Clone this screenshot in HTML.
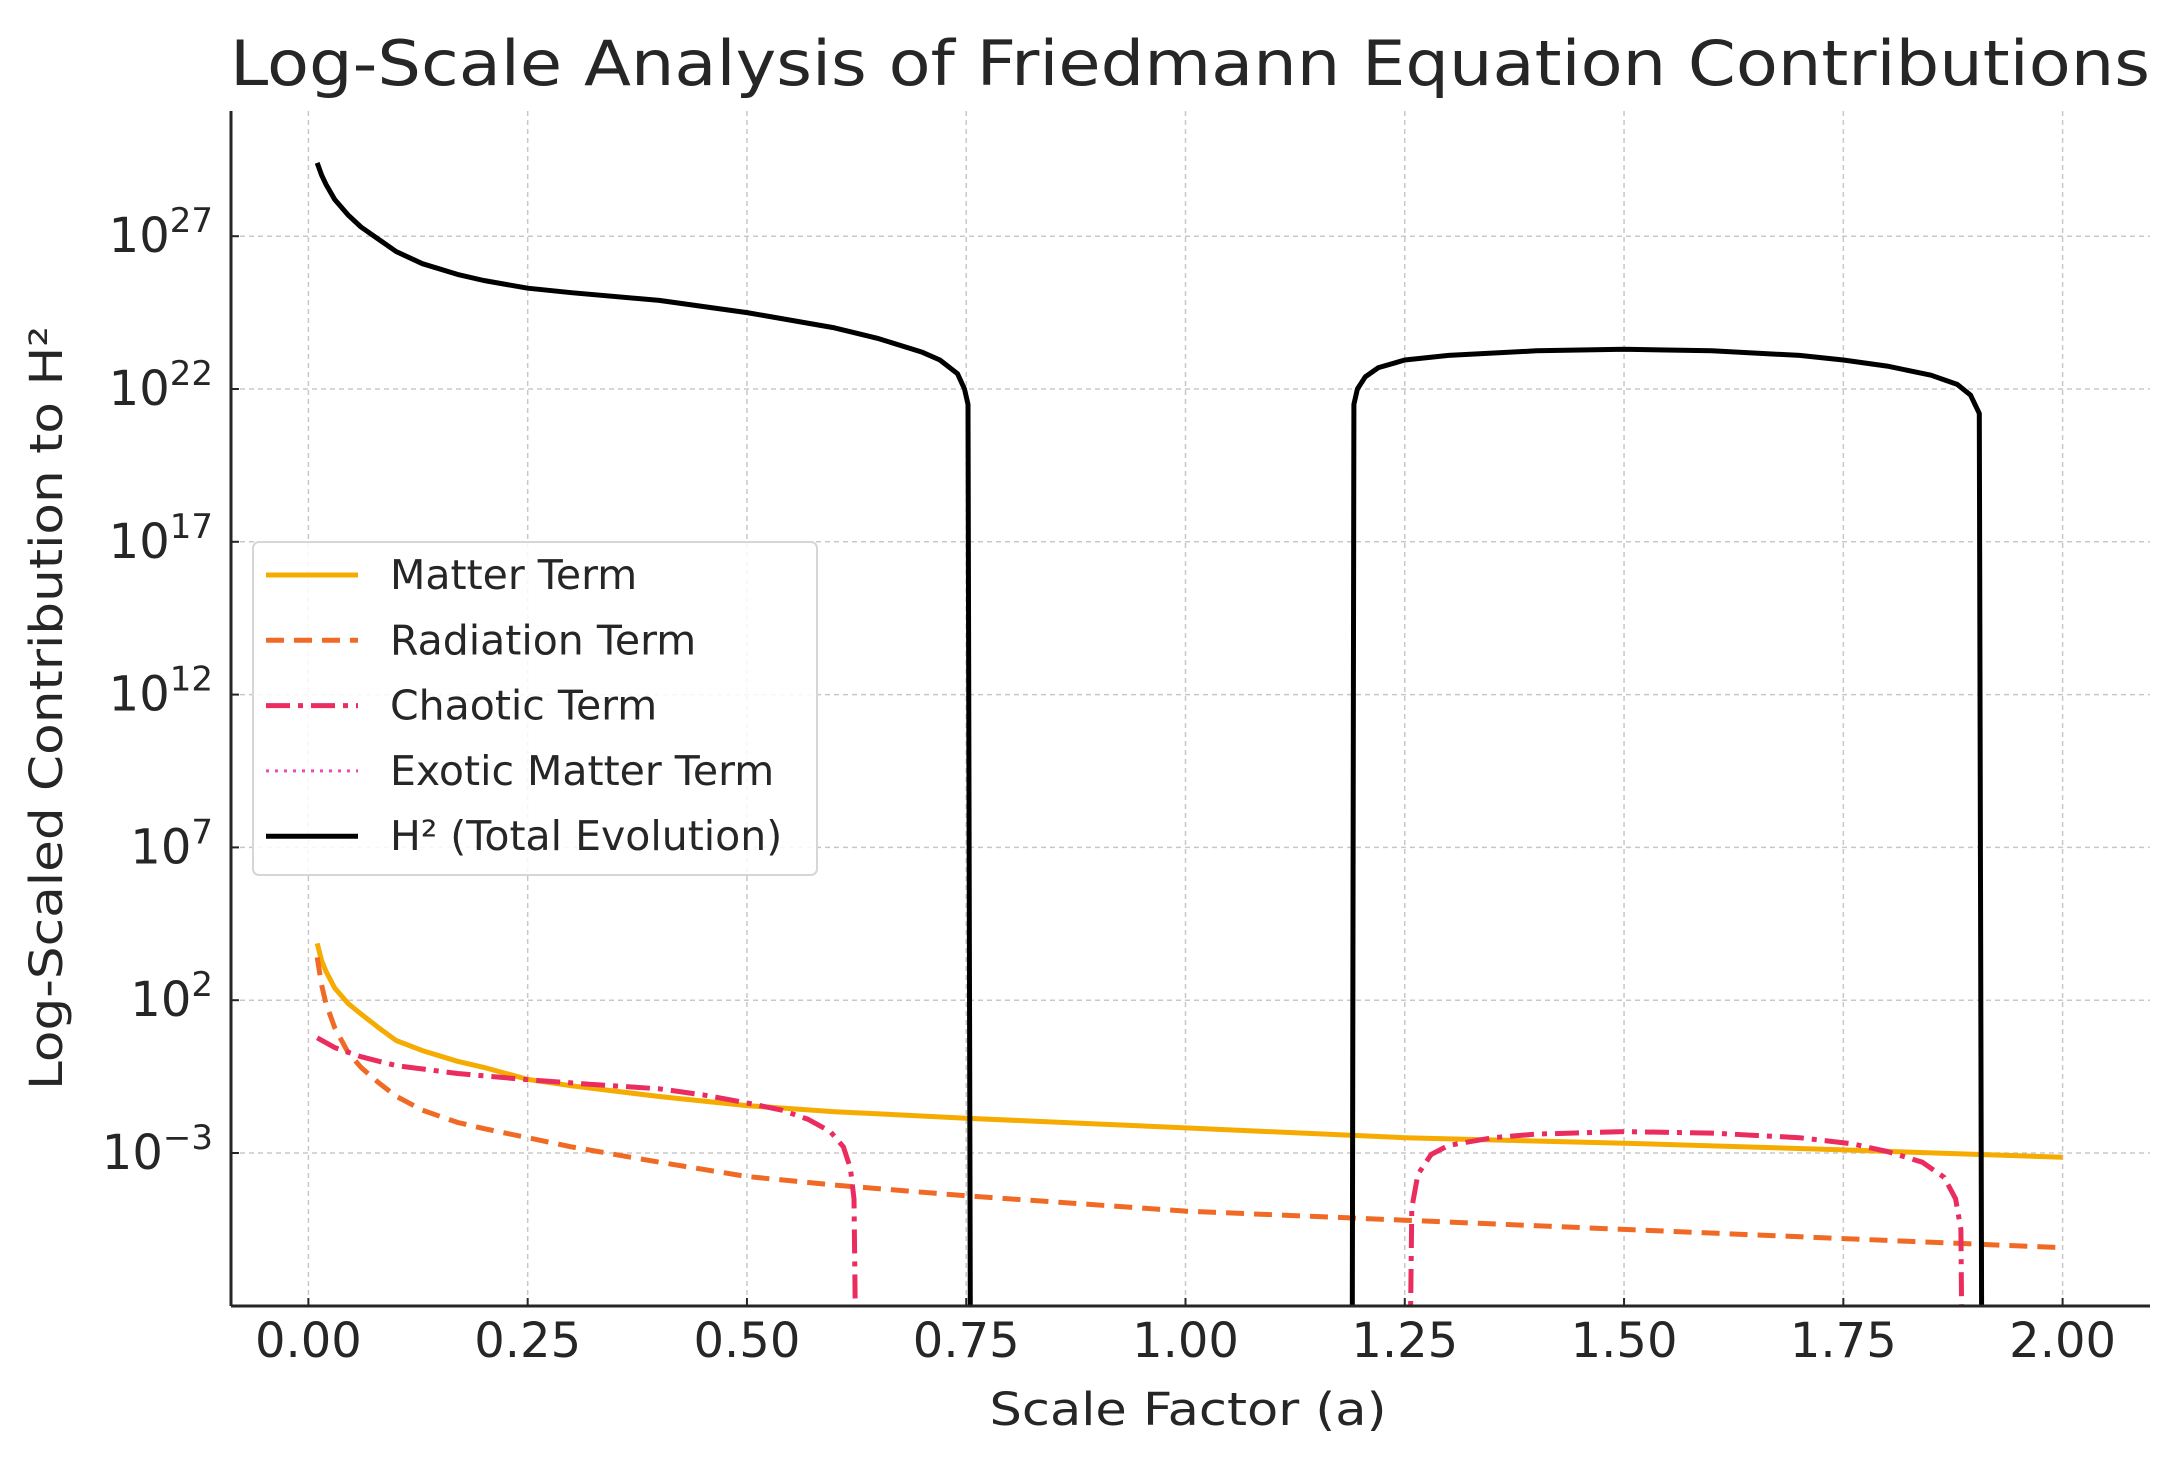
<!DOCTYPE html>
<html><head><meta charset="utf-8"><style>
html,body{margin:0;padding:0;background:#fff;}
svg{display:block;font-family:"DejaVu Sans","Liberation Sans",sans-serif;}
</style></head><body>
<svg id="chart" width="2178" height="1463" viewBox="0 0 2178 1463" xmlns="http://www.w3.org/2000/svg">
<defs><clipPath id="plotclip"><rect x="231" y="111" width="1919" height="1195"/></clipPath></defs>
<text x="1190" y="85" font-size="62" fill="#262626" text-anchor="middle" textLength="1920" lengthAdjust="spacingAndGlyphs">Log-Scale Analysis of Friedmann Equation Contributions</text>
<g id="grid"></g>
<g id="series" clip-path="url(#plotclip)"></g>
<g id="axes"></g>
<text x="1188" y="1425" font-size="45" fill="#262626" text-anchor="middle" textLength="397" lengthAdjust="spacingAndGlyphs">Scale Factor (a)</text>
<text transform="translate(62,708) rotate(-90)" font-size="45" fill="#262626" text-anchor="middle" textLength="764" lengthAdjust="spacingAndGlyphs">Log-Scaled Contribution to H²</text>
<g id="legend"></g>
</svg>
<script>
// ---- data (log10 values) ----
var xTicks = [0, 0.25, 0.5, 0.75, 1.0, 1.25, 1.5, 1.75, 2.0];
var xTickLabels = ["0.00","0.25","0.50","0.75","1.00","1.25","1.50","1.75","2.00"];
var yTicks = [-3, 2, 7, 12, 17, 22, 27];
var matterA = [0.01,0.015,0.02,0.03,0.045,0.06,0.08,0.1,0.13,0.17,0.2,0.25,0.3,0.4,0.5,0.6,0.75,0.9,1.0,1.25,1.5,1.75,2.0];
var matterV = [3.86,3.3,2.95,2.4,1.9,1.55,1.1,0.68,0.35,0.0,-0.2,-0.59,-0.8,-1.15,-1.45,-1.65,-1.86,-2.05,-2.18,-2.5,-2.68,-2.9,-3.14];
var radA = [0.01,0.015,0.02,0.03,0.045,0.06,0.08,0.1,0.13,0.17,0.2,0.25,0.3,0.4,0.5,0.6,0.75,1.0,1.25,1.5,1.75,2.0];
var radV = [3.4,2.5,1.9,1.1,0.3,-0.2,-0.7,-1.14,-1.6,-2.0,-2.2,-2.5,-2.8,-3.3,-3.77,-4.05,-4.4,-4.9,-5.2,-5.5,-5.8,-6.1];
var chaosA = [0.01,0.03,0.06,0.1,0.17,0.25,0.32,0.4,0.45,0.5,0.54,0.57,0.595,0.61,0.618,0.622,0.625,null,1.255,1.258,1.265,1.28,1.3,1.35,1.4,1.5,1.6,1.7,1.76,1.8,1.84,1.865,1.878,1.884,1.886];
var chaosV = [0.77,0.45,0.15,-0.14,-0.4,-0.6,-0.75,-0.9,-1.1,-1.36,-1.6,-1.9,-2.3,-2.8,-3.5,-4.5,-12,null,-12,-4.8,-3.7,-3.05,-2.75,-2.5,-2.38,-2.3,-2.35,-2.5,-2.7,-2.95,-3.3,-3.8,-4.5,-5.5,-12];
var totalA = [0.01,0.015,0.02,0.03,0.045,0.06,0.08,0.1,0.13,0.17,0.2,0.25,0.3,0.4,0.5,0.6,0.65,0.7,0.72,0.74,0.748,0.752,0.755,null,1.19,1.192,1.196,1.205,1.22,1.25,1.3,1.4,1.5,1.6,1.7,1.75,1.8,1.85,1.88,1.895,1.905,1.908];
var totalV = [29.4,29.0,28.7,28.2,27.7,27.3,26.9,26.5,26.1,25.75,25.55,25.3,25.15,24.9,24.5,24.0,23.65,23.2,22.95,22.5,22.0,21.5,-12,null,-12,21.5,22.0,22.4,22.7,22.95,23.1,23.25,23.3,23.25,23.1,22.95,22.75,22.45,22.15,21.8,21.2,-12];
var legendLabels = ["Matter Term","Radiation Term","Chaotic Term","Exotic Matter Term","H² (Total Evolution)"];

var NS="http://www.w3.org/2000/svg";
var L=231,R=2150,T=111,B=1306;
function xs(a){return 308.4 + a*877.1;}
function ys(v){return 1153 - (v+3)*30.56;}
function mk(tag,attrs,parent){var e=document.createElementNS(NS,tag);for(var k in attrs)e.setAttribute(k,attrs[k]);parent.appendChild(e);return e;}
var grid=document.getElementById('grid'),axes=document.getElementById('axes'),series=document.getElementById('series'),legend=document.getElementById('legend');

xTicks.forEach(function(t,i){
  var g=mk('line',{x1:xs(t),x2:xs(t),y1:T,y2:B,stroke:'#c8c8c8','stroke-width':1.5,'stroke-dasharray':'5,4'},grid);
  
  
  var tk=mk('line',{x1:xs(t),x2:xs(t),y1:B,y2:B-8,stroke:'#262626','stroke-width':2},axes);
  
  
  var lb=mk('text',{x:xs(t),y:1357,'font-size':48,fill:'#262626','text-anchor':'middle'},axes);
  lb.textContent=xTickLabels[i];
  
  
});
yTicks.forEach(function(t){
  var g=mk('line',{x1:L,x2:R,y1:ys(t),y2:ys(t),stroke:'#c8c8c8','stroke-width':1.5,'stroke-dasharray':'5,4'},grid);
  
  
  var tk=mk('line',{x1:L,x2:L+8,y1:ys(t),y2:ys(t),stroke:'#262626','stroke-width':2},axes);
  
  
  var lb=mk('text',{x:L-18,y:ys(t)+16,'font-size':48,fill:'#262626','text-anchor':'end'},axes);
  
  
  var b=mk('tspan',{},lb);b.textContent='10';
  var s=mk('tspan',{dy:-20,'font-size':34},lb);s.textContent=String(t).replace('-','\u2212');
});
var sp1=mk('line',{x1:L,x2:L,y1:T,y2:B,stroke:'#262626','stroke-width':3},axes);


var sp2=mk('line',{x1:L,x2:R,y1:B,y2:B,stroke:'#262626','stroke-width':3},axes);



function pathFrom(A,V){var d='',pen=false;for(var i=0;i<A.length;i++){if(A[i]===null){pen=false;continue;}d+=(pen?'L':'M')+xs(A[i]).toFixed(1)+','+ys(V[i]).toFixed(1);pen=true;}return d;}
var styles=[
 {c:'#f5ab00',dash:'',w:5},
 {c:'#f06a25',dash:'18,10',w:5},
 {c:'#ea2c5e',dash:'24,8,5,8',w:5},
 {c:'#f04ab0',dash:'3,6',w:3},
 {c:'#000000',dash:'',w:5}];
var p;
p=mk('path',{d:pathFrom(matterA,matterV),fill:'none',stroke:styles[0].c,'stroke-width':styles[0].w,'stroke-linejoin':'round'},series);


p=mk('path',{d:pathFrom(radA,radV),fill:'none',stroke:styles[1].c,'stroke-width':styles[1].w,'stroke-dasharray':styles[1].dash,'stroke-linejoin':'round'},series);


p=mk('path',{d:pathFrom(chaosA,chaosV),fill:'none',stroke:styles[2].c,'stroke-width':styles[2].w,'stroke-dasharray':styles[2].dash,'stroke-linejoin':'round'},series);


p=mk('path',{d:pathFrom(totalA,totalV),fill:'none',stroke:styles[4].c,'stroke-width':styles[4].w,'stroke-linejoin':'round'},series);



var box=mk('rect',{x:253,y:542,width:564,height:333,rx:6,fill:'#ffffff','fill-opacity':0.85,stroke:'#d6d6d6','stroke-width':2},legend);


legendLabels.forEach(function(lbl,i){
  var y=575+i*65.3, st=styles[i];
  var ln=mk('line',{x1:266,x2:358,y1:y,y2:y,stroke:st.c,'stroke-width':st.w},legend);
  if(st.dash)ln.setAttribute('stroke-dasharray',st.dash);
  
  
  var t=mk('text',{x:390,y:y+14,'font-size':41,fill:'#262626'},legend);
  t.textContent=lbl;
  
  
});
</script>
</body></html>
